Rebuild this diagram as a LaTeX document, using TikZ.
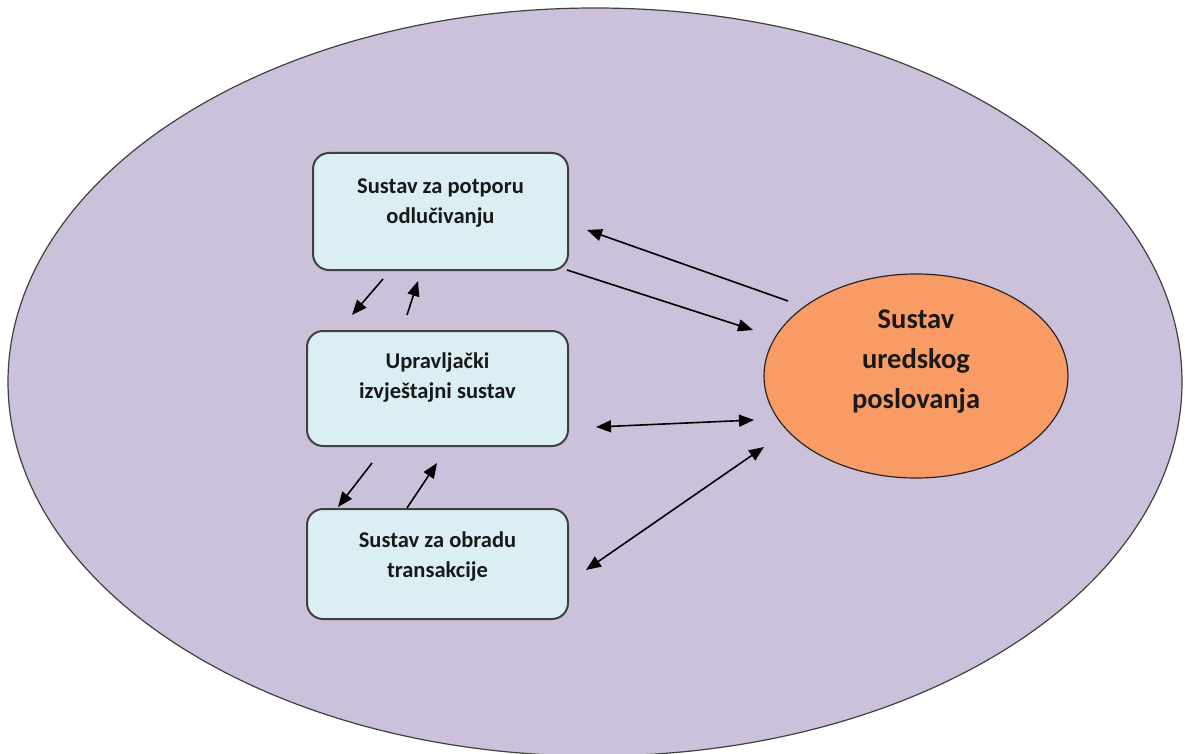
\documentclass[tikz,border=0pt]{standalone}
\usepackage{fontspec}
\setmainfont{Carlito}
\usetikzlibrary{arrows.meta,shapes.geometric}
\definecolor{outerfill}{HTML}{CCC1DA}
\definecolor{boxfill}{HTML}{DBEEF4}
\definecolor{orangefill}{HTML}{F99B65}
\definecolor{edgegray}{HTML}{404040}
\tikzset{
  outerell/.style={ellipse, draw=edgegray, line width=1.2pt, fill=outerfill, inner sep=0pt, minimum width=1174pt, minimum height=748pt},
  sysbox/.style={rectangle, rounded corners=16pt, draw=edgegray, line width=2pt, fill=boxfill, inner sep=0pt},
  boxtext/.style={align=center, font=\fontsize{22.5}{30}\selectfont\bfseries, text=black!90, inner sep=0pt},
  officeell/.style={ellipse, draw=black!85, line width=1.2pt, fill=orangefill, inner sep=0pt, minimum width=304pt, minimum height=204pt},
  officetext/.style={align=center, font=\fontsize{28.5}{40}\selectfont\bfseries, text=black!90, inner sep=0pt},
  conn/.style={line width=1.6pt, -{Triangle[length=15pt,width=12pt]}},
  dconn/.style={line width=1.6pt, {Triangle[length=15pt,width=12pt]}-{Triangle[length=15pt,width=12pt]}}
}
\begin{document}
\begin{tikzpicture}[x=1pt,y=-1pt]
\useasboundingbox (0,0) rectangle (1185,754);
\fill[white] (0,0) rectangle (1185,754);
\clip (0,0) rectangle (1185,754);
\node[outerell] (outer) at (595,382) {};

\node[sysbox, minimum width=255pt, minimum height=117pt] (b1) at (440.5,211.5) {};
\node[boxtext] (t1) at (440.5,203) {Sustav za potporu\\odlučivanju};
\node[sysbox, minimum width=261pt, minimum height=115pt] (b2) at (437.5,388.5) {};
\node[boxtext] (t2) at (437.5,378) {Upravljački\\izvještajni sustav};
\node[sysbox, minimum width=261pt, minimum height=110pt] (b3) at (437.5,564) {};
\node[boxtext] (t3) at (437.5,557) {Sustav za obradu\\transakcije};

\node[officeell] (office) at (916,376) {};
\node[officetext] (ot) at (916,362) {Sustav\\uredskog\\poslovanja};

% connector end points
\coordinate (a1s) at (788,301);
\coordinate (a1e) at (587,230);
\coordinate (a2s) at (567,270);
\coordinate (a2e) at (753,330);
\coordinate (a3s) at (596,427);
\coordinate (a3e) at (754,420);
\coordinate (a4s) at (586,570);
\coordinate (a4e) at (764,447);
\coordinate (a5s) at (383,279);
\coordinate (a5e) at (352,315);
\coordinate (a6s) at (407,315);
\coordinate (a6e) at (418,281);
\coordinate (a7s) at (372,463);
\coordinate (a7e) at (338,507);
\coordinate (a8s) at (407,508);
\coordinate (a8e) at (437,463);

\draw[conn] (a1s) -- (a1e);
\draw[conn] (a2s) -- (a2e);
\draw[dconn] (a3s) -- (a3e);
\draw[dconn] (a4s) -- (a4e);
\draw[conn] (a5s) -- (a5e);
\draw[conn] (a6s) -- (a6e);
\draw[conn] (a7s) -- (a7e);
\draw[conn] (a8s) -- (a8e);
\end{tikzpicture}
\end{document}
